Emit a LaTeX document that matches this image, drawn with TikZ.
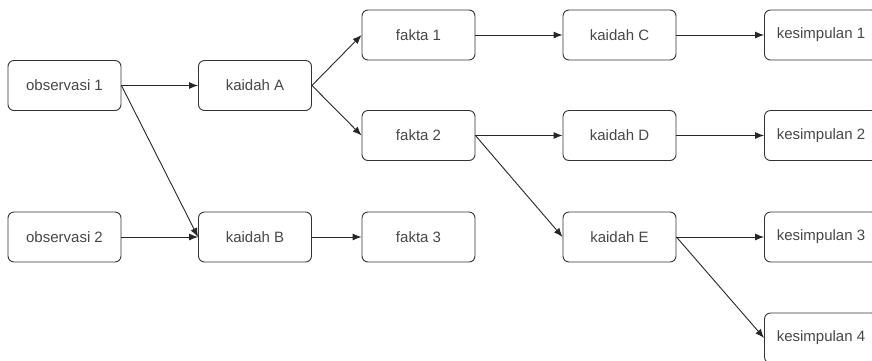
\documentclass[tikz,border=0pt]{standalone}
\usepackage{fontspec}
\setmainfont{Liberation Sans}
\usetikzlibrary{arrows.meta}

\begin{document}
\begin{tikzpicture}[x=1pt,y=-1pt,
	kotak/.style={draw=black!80, line width=0.9pt, rounded corners=6pt, minimum width=113pt, minimum height=50pt, inner sep=0pt, text=black!72, font=\fontsize{15}{17}\selectfont},
	panah/.style={draw=black!85, line width=0.9pt, -{Latex[length=9pt,width=7pt]}}]
	\useasboundingbox (0,0) rectangle (872,360);
	
	\node[kotak] (obs1) at (64.5,85.5) {observasi 1};
	\node[kotak] (obs2) at (64.5,237) {observasi 2};
	\node[kotak] (kA) at (255,85.5) {kaidah A};
	\node[kotak] (kB) at (255,237) {kaidah B};
	\node[kotak] (f1) at (418.5,35) {fakta 1};
	\node[kotak] (f2) at (418.5,135.5) {fakta 2};
	\node[kotak] (f3) at (418.5,237) {fakta 3};
	\node[kotak] (kC) at (619.5,35) {kaidah C};
	\node[kotak] (kD) at (619.5,135.5) {kaidah D};
	\node[kotak] (kE) at (619.5,237) {kaidah E};
	\node[kotak] (s1) at (821,35) {kesimpulan 1};
	\node[kotak] (s2) at (821,135.5) {kesimpulan 2};
	\node[kotak] (s3) at (821,237) {kesimpulan 3};
	\node[kotak] (s4) at (821,338) {kesimpulan 4};
	
	\draw[panah] (obs1.east) -- (kA.west);
	\draw[panah] (obs1.east) -- (kB.west);
	\draw[panah] (obs2.east) -- (kB.west);
	\draw[panah] (kA.east) -- (f1.west);
	\draw[panah] (kA.east) -- (f2.west);
	\draw[panah] (kB.east) -- (f3.west);
	\draw[panah] (f1.east) -- (kC.west);
	\draw[panah] (f2.east) -- (kD.west);
	\draw[panah] (f2.east) -- (kE.west);
	\draw[panah] (kC.east) -- (s1.west);
	\draw[panah] (kD.east) -- (s2.west);
	\draw[panah] (kE.east) -- (s3.west);
	\draw[panah] (kE.east) -- (s4.west);
\end{tikzpicture}
\end{document}
